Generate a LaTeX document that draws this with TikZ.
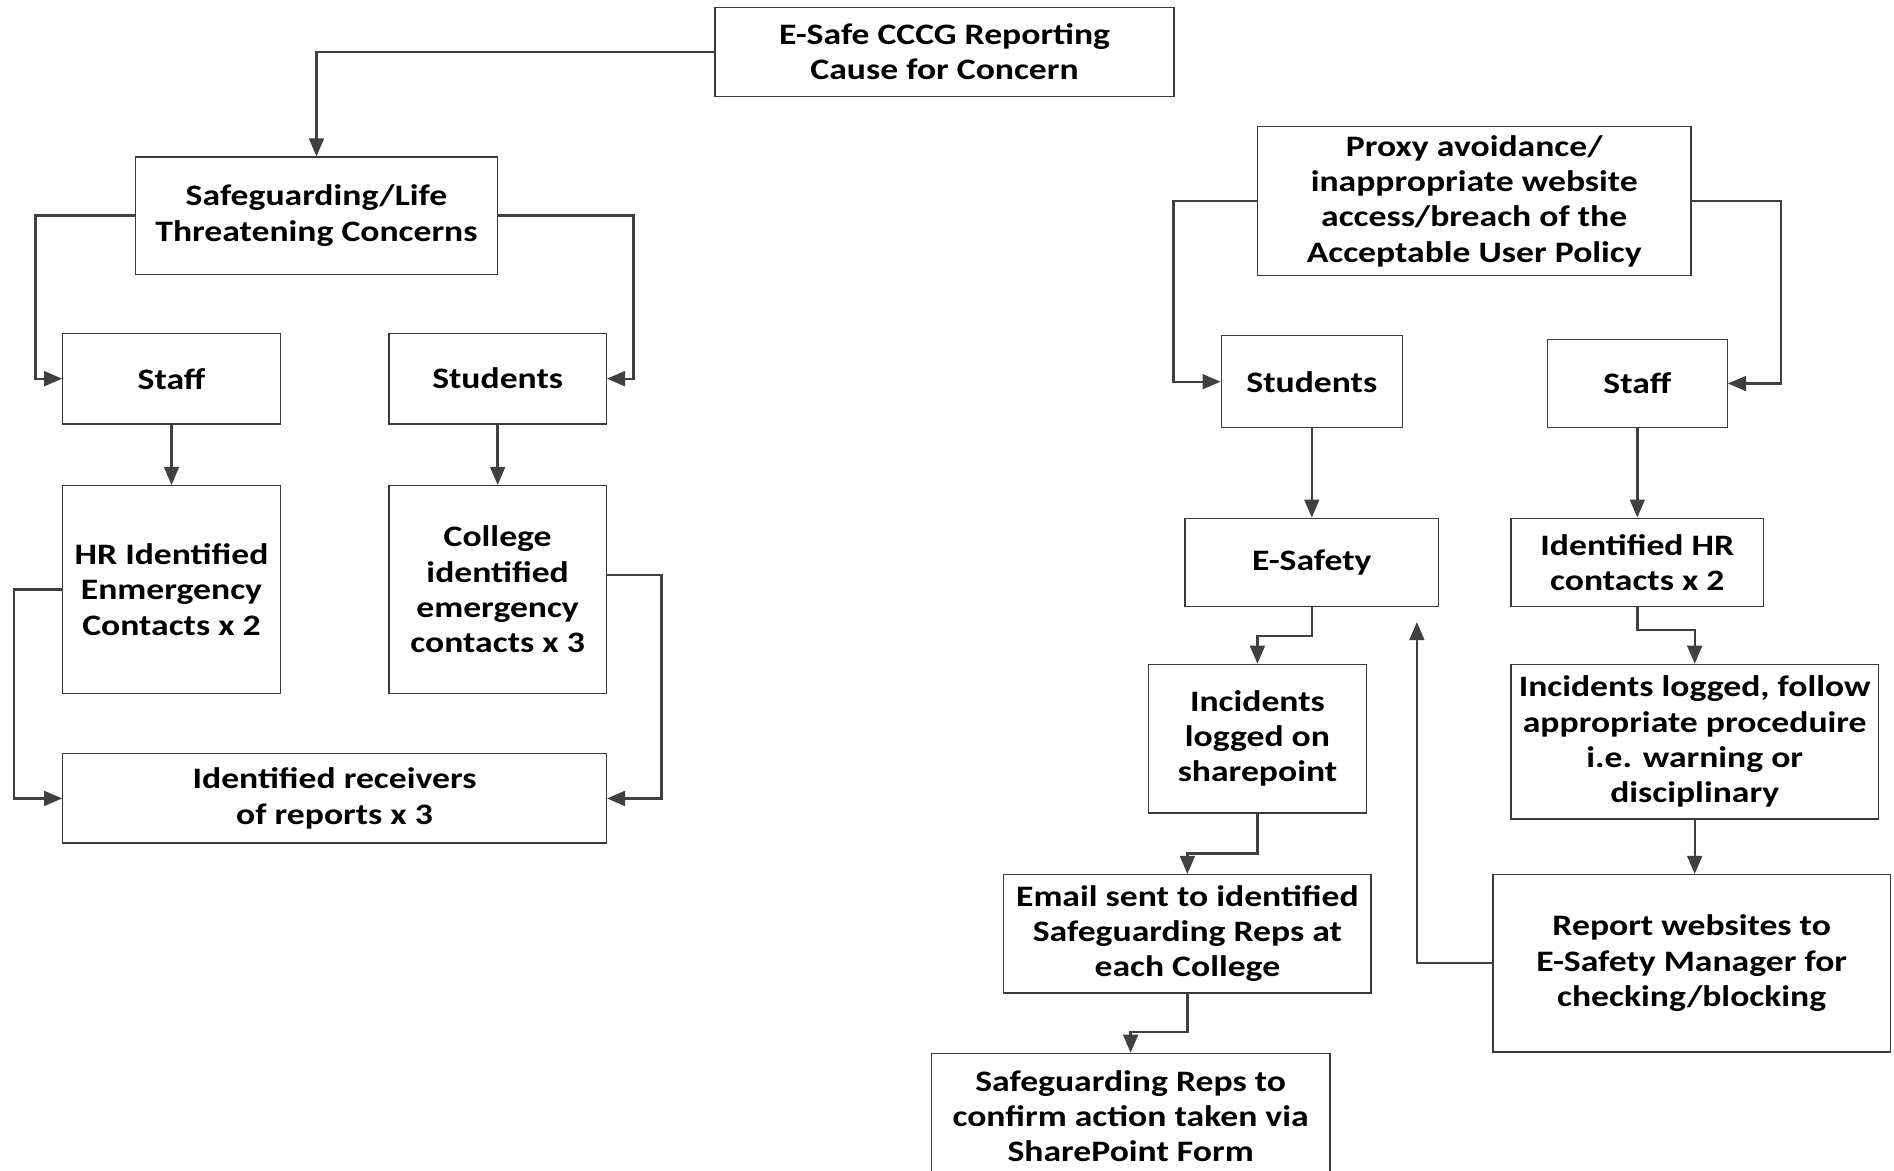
\documentclass[tikz,border=0pt]{standalone}
\usepackage{fontspec}
\setmainfont{Carlito}[FakeStretch=1.2]
\usetikzlibrary{arrows.meta}
\newlength\U
\setlength\U{0.02cm}
\definecolor{lineg}{HTML}{404040}
\definecolor{boxg}{HTML}{3A3A3A}
\tikzset{
  box/.style={draw=boxg, line width=0.6pt, rectangle, inner sep=0pt, align=center,
    font=\fontsize{14}{16.6}\selectfont\bfseries, text=black},
  conn/.style={draw=lineg, line width=1.1pt, -{Triangle[length=8.5pt,width=7pt]}},
}
\begin{document}
\begin{tikzpicture}[x=0.02cm,y=-0.02cm]
\useasboundingbox (0,0) rectangle (1568,969);
% left side
\node[box, minimum width=380\U, minimum height=74\U] (esafe) at (782,43) {E-Safe CCCG Reporting\\Cause for Concern};
\node[box, minimum width=300\U, minimum height=97\U] (safe) at (262,178.5) {Safeguarding/Life\\Threatening Concerns};
\node[box, minimum width=180\U, minimum height=75\U] (staffL) at (142,313.5) {Staff};
\node[box, minimum width=180\U, minimum height=75\U] (studL) at (412,313.5) {Students};
\node[box, minimum width=180\U, minimum height=172\U] (hrL) at (142,488) {HR Identified\\Enmergency\\Contacts x 2};
\node[box, minimum width=180\U, minimum height=172\U] (college) at (412,488) {College\\identified\\emergency\\contacts x 3};
\node[box, minimum width=450\U, minimum height=74\U] (recv) at (277,661) {Identified receivers\\of reports x 3};
% right side
\node[box, minimum width=359\U, minimum height=123\U] (proxy) at (1220.5,166.5) {Proxy avoidance/\\inappropriate website\\access/breach of the\\Acceptable User Policy};
\node[box, minimum width=150\U, minimum height=76\U] (studR) at (1086,316) {Students};
\node[box, minimum width=149\U, minimum height=73\U] (staffR) at (1355.5,317.5) {Staff};
\node[box, minimum width=210\U, minimum height=73\U] (esafety) at (1086,465.5) {E-Safety};
\node[box, minimum width=209\U, minimum height=73\U] (idhr) at (1355.5,465.5) {Identified HR\\contacts x 2};
\node[box, minimum width=180\U, minimum height=123\U] (incS) at (1041,611.5) {Incidents\\logged on\\sharepoint};
\node[box, minimum width=304\U, minimum height=128\U] (incF) at (1403,614) {Incidents logged, follow\\appropriate proceduire\\i.e. warning or\\disciplinary};
\node[box, minimum width=304\U, minimum height=98\U] (email) at (983,773) {Email sent to identified\\Safeguarding Reps at\\each College};
\node[box, minimum width=329\U, minimum height=147\U] (report) at (1400.5,797.5) {Report websites to\\E-Safety Manager for\\checking/blocking};
\node[box, minimum width=330\U, minimum height=104\U] (srep) at (936,924) {Safeguarding Reps to\\confirm action taken via\\SharePoint Form};
\coordinate (esArrow) at (1173,515);
% connectors left
\draw[conn] (esafe.west) -| (safe.north);
\draw[conn] (safe.west) -- ++(-82,0) |- (staffL.west);
\draw[conn] (safe.east) -- ++(112,0) |- (studL.east);
\draw[conn] (staffL.south) -- (hrL.north);
\draw[conn] (studL.south) -- (college.north);
\draw[conn] (hrL.west) -- ++(-40,0) |- (recv.west);
\draw[conn] ([yshift=12\U]college.east) -- ++(45,0) |- (recv.east);
% connectors right
\draw[conn] (proxy.west) -- ++(-69,0) |- (studR.west);
\draw[conn] (proxy.east) -- ++(74,0) |- (staffR.east);
\draw[conn] (studR.south) -- (esafety.north);
\draw[conn] (staffR.south) -- (idhr.north);
\draw[conn] (esafety.south) -- ++(0,24) -| (incS.north);
\draw[conn] (idhr.south) -- ++(0,19) -| (incF.north);
\draw[conn] (incS.south) -- ++(0,33) -| (email.north);
\draw[conn] (incF.south) -- (incF.south |- report.north);
\draw[conn] (email.south) -- ++(0,32) -| (srep.north);
\draw[conn] (report.west) -| (esArrow);
\end{tikzpicture}
\end{document}
